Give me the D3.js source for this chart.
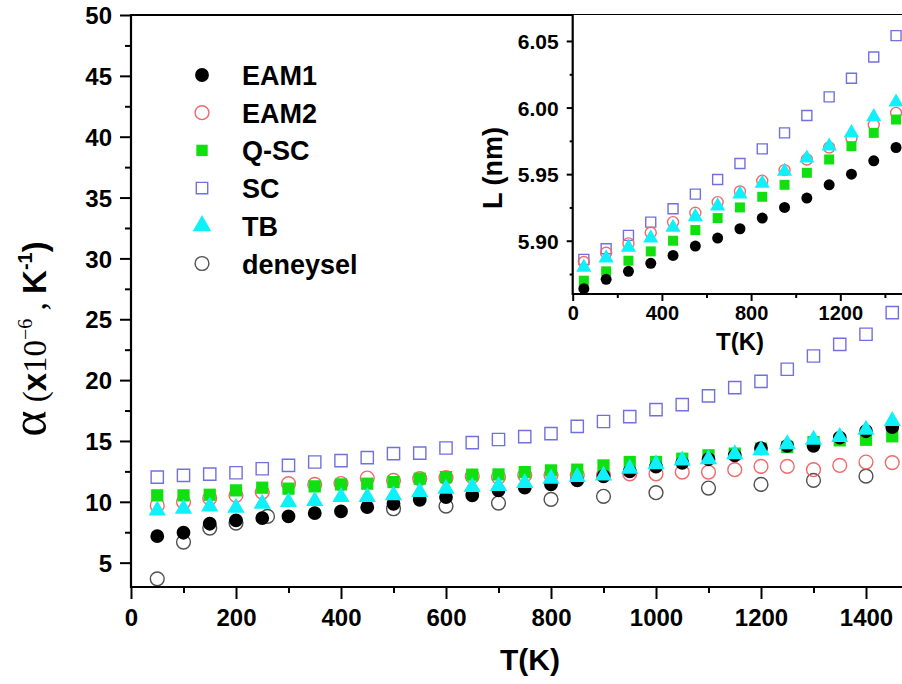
<!DOCTYPE html>
<html><head><meta charset="utf-8">
<script src="https://cdn.jsdelivr.net/npm/d3@7"></script>
<style>
html,body{margin:0;padding:0;background:#fff;overflow:hidden;}
svg{display:block;}
text{font-family:"Liberation Sans",Arial,sans-serif;font-weight:bold;fill:#000;}
</style></head>
<body>
<script>
// ---------- DATA ----------
const seriesNames = ["EAM1","EAM2","Q-SC","SC","TB","deneysel"];
const mainT = [50,100,150,200,250,300,350,400,450,500,550,600,650,700,750,800,850,900,950,1000,1050,1100,1150,1200,1250,1300,1350,1400,1450];
const alphaEAM1 = [7.18,7.46,8.2,8.47,8.66,8.8,9.07,9.21,9.56,9.84,10.17,10.39,10.53,10.94,11.16,11.43,11.76,12.1,12.5,12.9,13.2,13.5,13.82,14.4,14.6,14.6,15.27,15.8,16.14];
const alphaEAM2 = [9.7,9.98,10.3,10.53,10.8,11.49,11.43,11.5,11.95,11.76,11.9,11.98,12.1,12.03,12.2,12.2,12.2,12.2,12.3,12.3,12.44,12.44,12.64,12.91,12.91,12.64,12.99,13.27,13.22];
const alphaQSC = [10.53,10.53,10.58,10.94,11.16,11.08,11.27,11.43,11.49,11.62,11.9,12.03,12.23,12.25,12.44,12.58,12.64,12.99,13.27,13.27,13.54,13.82,13.96,14.37,14.5,14.91,15.05,15.1,15.38];
const alphaSC = [12.03,12.17,12.28,12.39,12.72,12.99,13.27,13.38,13.63,13.96,14.0,14.42,14.86,15.12,15.35,15.6,16.2,16.6,17.0,17.57,17.98,18.7,19.38,19.9,20.89,21.98,22.94,23.77,25.55];
const alphaTB = [9.29,9.43,9.62,9.51,9.84,9.98,10.06,10.39,10.39,10.53,10.8,11.08,11.21,11.3,11.55,11.9,12.03,12.17,12.72,13.08,13.4,13.49,13.9,14.23,14.72,15.1,15.32,15.93,16.64];
const expT = [50,100,150,200,260,500,600,700,800,900,1000,1100,1200,1300,1400];
const alphaExp = [3.67,6.69,7.84,8.25,8.8,9.43,9.65,9.9,10.2,10.45,10.75,11.13,11.43,11.76,12.11];

const insetT = [50,150,250,350,450,550,650,750,850,950,1050,1150,1250,1350,1450];
const lenEAM1 = [5.864,5.871,5.877,5.883,5.889,5.896,5.902,5.909,5.917,5.925,5.932,5.942,5.950,5.960,5.970];
const lenEAM2 = [5.884,5.891,5.898,5.906,5.914,5.921,5.929,5.937,5.945,5.953,5.961,5.970,5.977,5.987,5.996];
const lenQSC = [5.870,5.877,5.885,5.892,5.900,5.908,5.917,5.925,5.933,5.942,5.951,5.961,5.971,5.981,5.991];
const lenSC = [5.886,5.894,5.904,5.914,5.924,5.935,5.946,5.958,5.969,5.981,5.994,6.008,6.022,6.038,6.054];
const lenTB = [5.880,5.887,5.895,5.902,5.910,5.918,5.926,5.935,5.943,5.952,5.962,5.971,5.981,5.993,6.004];

const mainXTicks = [0,200,400,600,800,1000,1200,1400];
const mainYTicks = [5,10,15,20,25,30,35,40,45,50];
const insetXTicks = [0,400,800,1200];
const insetYTicks = [5.90,5.95,6.00,6.05];

// ---------- STYLES ----------
const styles = {
  "EAM1":    {type:d3.symbolCircle,  fill:"#000",    stroke:"none",    size:150, isize:95},
  "EAM2":    {type:d3.symbolCircle,  fill:"none",    stroke:"#f06a6a", size:150, isize:95},
  "Q-SC":    {type:d3.symbolSquare,  fill:"#10e010", stroke:"none",    size:150, isize:100},
  "SC":      {type:d3.symbolSquare,  fill:"none",    stroke:"#7070e0", size:150, isize:100},
  "TB":      {type:d3.symbolTriangle,fill:"#10f0f8", stroke:"none",    size:130, isize:100},
  "deneysel":{type:d3.symbolCircle,  fill:"none",    stroke:"#505050", size:150, isize:95}
};

const W = 902, H = 684;
const svg = d3.select("body").append("svg").attr("width",W).attr("height",H);
const SERIF = "Liberation Serif, Times New Roman, serif";

// ---------- MAIN ----------
const x = d3.scaleLinear().domain([0,1500]).range([131,918.5]);
const y = d3.scaleLinear().domain([3,50]).range([587,15]);

function drawSeries(g, xs, ys, T, vals, name, sizeKey){
  const st = styles[name];
  const sym = d3.symbol().type(st.type).size(st[sizeKey]);
  g.selectAll(null).data(T.map((t,i)=>[t,vals[i]])).enter().append("path")
    .attr("d", sym)
    .attr("transform", d=>`translate(${xs(d[0])},${ys(d[1])})`)
    .attr("fill", st.fill).attr("stroke", st.stroke).attr("stroke-width", st.stroke==="none"?0:1.4);
}

const gm = svg.append("g");
drawSeries(gm,x,y,expT,alphaExp,"deneysel","size");
drawSeries(gm,x,y,mainT,alphaEAM2,"EAM2","size");
drawSeries(gm,x,y,mainT,alphaSC,"SC","size");
drawSeries(gm,x,y,mainT,alphaQSC,"Q-SC","size");
drawSeries(gm,x,y,mainT,alphaEAM1,"EAM1","size");
drawSeries(gm,x,y,mainT,alphaTB,"TB","size");

// axes
const xAxis = d3.axisBottom(x).tickValues(mainXTicks).tickSize(12).tickPadding(10).tickFormat(d3.format("d"));
const xMinor = d3.axisBottom(x).tickValues(d3.range(100,1500,200)).tickSize(6).tickFormat("");
const yAxis = d3.axisLeft(y).tickValues(mainYTicks).tickSize(11).tickPadding(8).tickFormat(d3.format("d"));
const yMinor = d3.axisLeft(y).tickValues(d3.range(7.5,50,5)).tickSize(6).tickFormat("");

function styleAxis(g, fs){
  g.select(".domain").remove();
  g.selectAll("line").attr("stroke","#000").attr("stroke-width",2);
  g.selectAll("text").attr("font-size",fs).attr("font-family","Liberation Sans, Arial, sans-serif").attr("font-weight","bold").attr("fill","#000");
}
const gx = svg.append("g").attr("transform","translate(0,587)").call(xAxis); styleAxis(gx,24);
const gx2 = svg.append("g").attr("transform","translate(0,587)").call(xMinor); styleAxis(gx2,24);
const gy = svg.append("g").attr("transform","translate(131,0)").call(yAxis); styleAxis(gy,24);
const gy2 = svg.append("g").attr("transform","translate(131,0)").call(yMinor); styleAxis(gy2,24);
gy.selectAll("text").attr("dy","0.36em");

// frame
svg.append("line").attr("x1",131).attr("x2",W+5).attr("y1",587).attr("y2",587).attr("stroke","#000").attr("stroke-width",2.2);
svg.append("line").attr("x1",131).attr("x2",131).attr("y1",14).attr("y2",588).attr("stroke","#000").attr("stroke-width",2.2);
svg.append("line").attr("x1",131).attr("x2",W+5).attr("y1",15).attr("y2",15).attr("stroke","#000").attr("stroke-width",2.2);

// axis titles
svg.append("text").attr("x",530).attr("y",670).attr("text-anchor","middle").attr("font-size",30).text("T(K)");
const yl = svg.append("text").attr("transform","translate(46,339) rotate(-90)").attr("text-anchor","middle");
yl.append("tspan").attr("font-family",SERIF).attr("font-weight","normal").attr("font-size",50).text("α");
yl.append("tspan").attr("font-family",SERIF).attr("font-weight","normal").attr("font-size",33).text(" (");
yl.append("tspan").attr("font-size",33).text("x");
yl.append("tspan").attr("font-family",SERIF).attr("font-weight","normal").attr("font-size",33).text("10");
yl.append("tspan").attr("font-family",SERIF).attr("font-weight","normal").attr("font-size",20).attr("dy",-14).text("−6");
yl.append("tspan").attr("font-family",SERIF).attr("font-weight","normal").attr("font-size",33).attr("dy",14).text(" , ");
yl.append("tspan").attr("font-size",33).text("K");
yl.append("tspan").attr("font-size",20).attr("dy",-14).text("-1");
yl.append("tspan").attr("font-size",33).attr("dy",14).text(")");

// legend
const leg = svg.append("g");
seriesNames.forEach((n,i)=>{
  const st = styles[n];
  const cy = 75 + i*37.7;
  leg.append("path").attr("d", d3.symbol().type(st.type).size(n==="TB"?150:(st.type===d3.symbolSquare?130:150))())
    .attr("transform",`translate(202,${cy})`)
    .attr("fill",st.fill).attr("stroke",st.stroke).attr("stroke-width",st.stroke==="none"?0:1.4);
  leg.append("text").attr("x",242).attr("y",cy+10).attr("font-size",27).text(n);
});

// ---------- INSET ----------
const ix = d3.scaleLinear().domain([0,1500]).range([572.7,907.2]);
const iy = d3.scaleLinear().domain([5.86,6.0695]).range([294,15]);
svg.append("rect").attr("x",572.7).attr("y",15).attr("width",W).attr("height",279).attr("fill","#fff");
const gi = svg.append("g");
drawSeries(gi,ix,iy,insetT,lenSC,"SC","isize");
drawSeries(gi,ix,iy,insetT,lenEAM2,"EAM2","isize");
drawSeries(gi,ix,iy,insetT,lenQSC,"Q-SC","isize");
drawSeries(gi,ix,iy,insetT,lenTB,"TB","isize");
drawSeries(gi,ix,iy,insetT,lenEAM1,"EAM1","isize");

const ixAxis = d3.axisBottom(ix).tickValues(insetXTicks).tickSize(7).tickPadding(5).tickFormat(d3.format("d"));
const ixMinor = d3.axisBottom(ix).tickValues([200,600,1000,1400]).tickSize(4).tickFormat("");
const iyAxis = d3.axisLeft(iy).tickValues(insetYTicks).tickSize(6).tickPadding(8).tickFormat(d3.format(".2f"));
const iyMinor = d3.axisLeft(iy).tickValues([5.875,5.925,5.975,6.025]).tickSize(3).tickFormat("");
const gix = svg.append("g").attr("transform","translate(0,294)").call(ixAxis); styleAxis(gix,20);
const gix2 = svg.append("g").attr("transform","translate(0,294)").call(ixMinor); styleAxis(gix2,20);
const giy = svg.append("g").attr("transform","translate(572.7,0)").call(iyAxis); styleAxis(giy,21);
const giy2 = svg.append("g").attr("transform","translate(572.7,0)").call(iyMinor); styleAxis(giy2,21);
giy.selectAll("text").attr("dy","0.36em");
svg.append("line").attr("x1",572.7).attr("x2",W+5).attr("y1",294).attr("y2",294).attr("stroke","#000").attr("stroke-width",2.2);
svg.append("line").attr("x1",572.7).attr("x2",572.7).attr("y1",14).attr("y2",295).attr("stroke","#000").attr("stroke-width",2.2);
svg.append("text").attr("x",740).attr("y",350).attr("text-anchor","middle").attr("font-size",24).text("T(K)");
svg.append("text").attr("transform","translate(502,168) rotate(-90)").attr("text-anchor","middle").attr("font-size",27).text("L (nm)");
</script>
</body></html>
